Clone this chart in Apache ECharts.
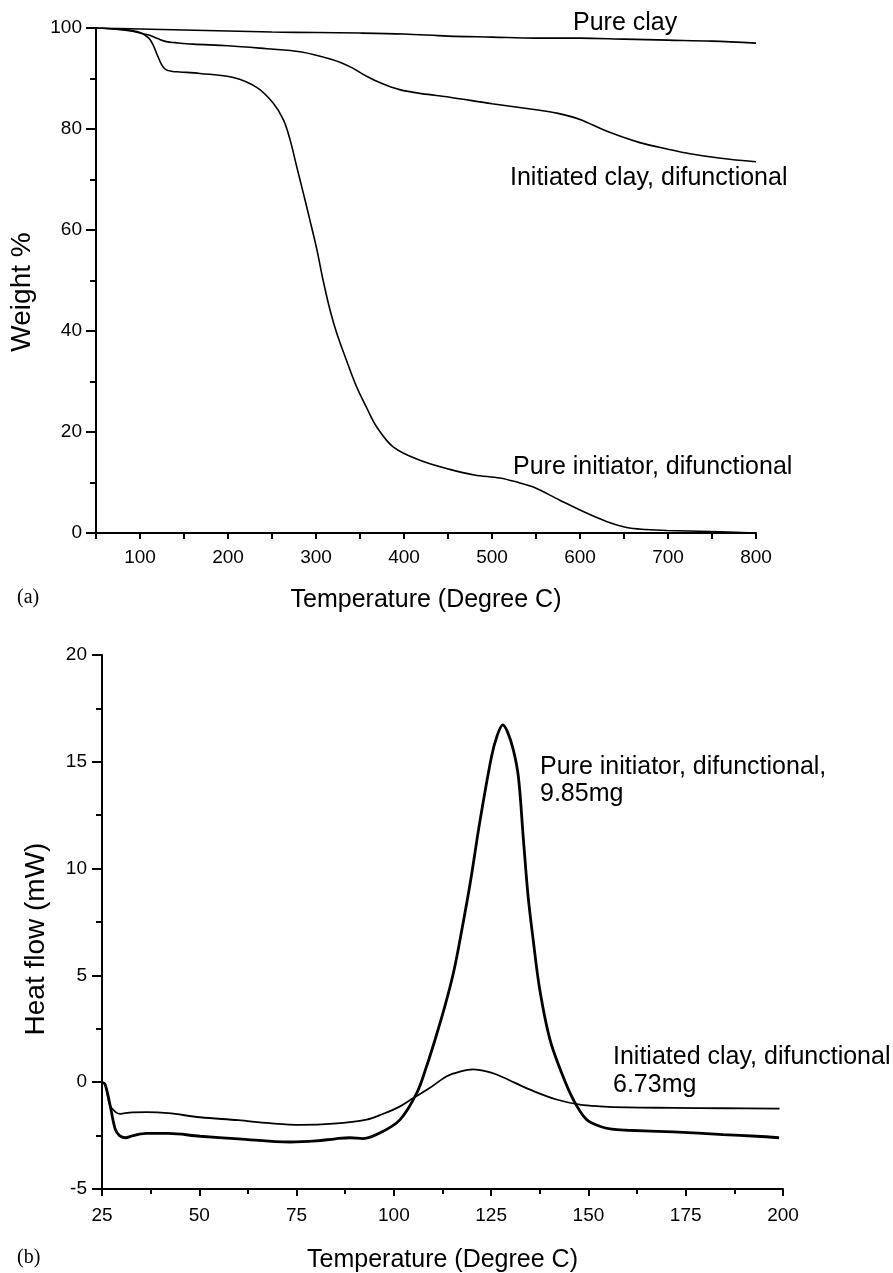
<!DOCTYPE html>
<html>
<head>
<meta charset="utf-8">
<title>TGA / DSC</title>
<script src="https://cdn.jsdelivr.net/npm/echarts@6/dist/echarts.min.js"></script>
<style>
  html, body { margin: 0; padding: 0; background: #fff; }
  #chart { width: 893px; height: 1273px; }
</style>
</head>
<body>
<div id="chart"></div>
<script>
// (a) TGA 数据：温度 / 失重
const clayT = [50, 100, 150, 200, 250, 300, 350, 400, 450, 500, 550, 600, 650, 700, 750, 800];
const clayW = [100, 99.8, 99.6, 99.4, 99.2, 99.1, 99.0, 98.8, 98.4, 98.2, 98.0, 98.0, 97.8, 97.6, 97.4, 97.0];

const initClayT = [50, 70, 90, 100, 110, 120, 130, 140, 160, 200, 244, 282, 319, 340, 358, 375, 395, 420, 452, 500, 550, 575, 600, 630, 668, 700, 725, 760, 800];
const initClayW = [100, 99.8, 99.4, 99.0, 98.6, 97.9, 97.3, 97.1, 96.8, 96.5, 95.9, 95.3, 93.7, 92.2, 90.4, 89.0, 87.8, 87.0, 86.3, 85.0, 83.8, 83.1, 81.9, 79.6, 77.3, 76.0, 75.1, 74.2, 73.5];

const initT = [50, 80, 100, 110, 115, 120, 125, 130, 137, 145, 168, 206, 233, 251.5, 263, 270.5, 278, 285.6, 293, 301, 308, 316, 323.5, 335, 346, 357, 369, 388, 418, 452, 480, 509, 530, 547, 577, 608, 630, 653, 675, 699, 748, 800];
const initW = [100, 99.7, 99.1, 98.0, 96.6, 94.5, 92.6, 91.7, 91.4, 91.3, 91.0, 90.2, 88.2, 85.1, 81.8, 77.9, 72.6, 67.3, 62.0, 56.1, 50.1, 44.1, 39.6, 34.0, 29.0, 25.0, 21.0, 17.0, 14.4, 12.6, 11.5, 10.9, 10.0, 9.1, 6.5, 3.9, 2.3, 1.1, 0.7, 0.5, 0.3, 0];

// (b) DSC 数据：温度 / 热流
const dscInitT = [25, 25.8, 27.1, 28.4, 29.5, 31, 33, 36.5, 42, 50.2, 60, 73.3, 80, 85, 88.7, 92.1, 96.5, 101.6, 105.9, 108.4, 110.6, 113.1, 115.3, 117, 119.6, 122.1, 125.1, 126.5, 128, 129.2, 130.7, 132, 133.3, 134.5, 135.8, 137.5, 140.1, 143.1, 146.1, 149.5, 152.9, 156, 160, 171.8, 184.6, 193.2, 199];
const dscInitH = [0, -0.1, -1.1, -2.2, -2.5, -2.6, -2.5, -2.4, -2.4, -2.53, -2.65, -2.8, -2.75, -2.65, -2.6, -2.64, -2.37, -1.75, -0.5, 0.74, 2.0, 3.55, 5.11, 6.67, 9.3, 12.2, 15.25, 16.2, 16.73, 16.4, 15.56, 14.3, 11.35, 8.7, 6.67, 4.33, 2.0, 0.44, -0.81, -1.75, -2.06, -2.2, -2.25, -2.33, -2.45, -2.53, -2.6];

const dscClayT = [25, 25.8, 27.1, 28.5, 29.7, 32, 36.5, 42, 50.2, 60, 68, 75.9, 84.5, 93, 97, 101.6, 105, 109, 113.6, 117, 120.4, 123.5, 126.4, 131, 135, 141.8, 147.8, 152.9, 160, 171.7, 185, 199.1];
const dscClayH = [0, -0.1, -1.1, -1.4, -1.48, -1.42, -1.4, -1.45, -1.64, -1.78, -1.92, -2.0, -1.94, -1.75, -1.5, -1.13, -0.74, -0.3, 0.28, 0.5, 0.6, 0.52, 0.36, -0.02, -0.35, -0.81, -1.05, -1.13, -1.18, -1.2, -1.22, -1.24];

const FONT = '"Liberation Sans", Arial, sans-serif';
const SERIF = '"Liberation Serif", "Times New Roman", serif';

const chart = echarts.init(document.getElementById('chart'));

// 合并 x / y 数组为点
const zip = (xs, ys) => xs.map((x, i) => [x, ys[i]]);

// 通用坐标轴样式
function axisBase(extra) {
    return Object.assign({
        type: 'value',
        splitLine: { show: false },
        axisLine: { show: true, onZero: false, lineStyle: { color: '#000', width: 2 } },
        axisTick: { show: true, length: 8, lineStyle: { color: '#000', width: 2 } },
        minorTick: { show: true, splitNumber: 2, length: 5, lineStyle: { color: '#000', width: 2 } },
        axisLabel: { color: '#000', fontSize: 19, fontFamily: FONT },
        nameLocation: 'middle',
        nameTextStyle: { color: '#000', fontSize: 25, fontFamily: FONT }
    }, extra);
}

function line(name, data, idx, width) {
    return {
        name: name,
        type: 'line',
        xAxisIndex: idx,
        yAxisIndex: idx,
        data: data,
        showSymbol: false,
        smooth: 0.35,
        lineStyle: { color: '#000', width: width }
    };
}

function label(text, x, y, size, family, rotation) {
    return {
        type: 'text',
        x: x,
        y: y,
        rotation: rotation || 0,
        style: {
            text: text,
            fill: '#000',
            font: size + 'px ' + (family || FONT),
            textAlign: rotation ? 'center' : 'left',
            textVerticalAlign: 'middle'
        }
    };
}

const option = {
    backgroundColor: '#fff',
    animation: false,
    grid: [
        { left: 96, top: 28, width: 660, height: 505, outerBoundsMode: 'none' },     // (a)
        { left: 102, top: 655, width: 681, height: 534, outerBoundsMode: 'none' }   // (b)
    ],
    xAxis: [
        axisBase({
            gridIndex: 0, min: 50, max: 800, interval: 50,
            minorTick: { show: false },
            axisTick: { show: true, length: 6, lineStyle: { color: '#000', width: 2 } },
            axisLabel: { color: '#000', fontSize: 19, fontFamily: FONT, margin: 15,
                formatter: v => (v % 100 === 0 ? String(v) : '') },
            name: 'Temperature (Degree C)', nameGap: 55
        }),
        axisBase({
            gridIndex: 1, min: 25, max: 200, interval: 25,
            axisTick: { show: true, length: 7, lineStyle: { color: '#000', width: 2 } },
            axisLabel: { color: '#000', fontSize: 19, fontFamily: FONT, margin: 17 },
            name: 'Temperature (Degree C)', nameGap: 59
        })
    ],
    yAxis: [
        axisBase({
            gridIndex: 0, min: 0, max: 100, interval: 20,
            axisTick: { show: true, length: 10, lineStyle: { color: '#000', width: 2 } },
            minorTick: { show: true, splitNumber: 2, length: 6, lineStyle: { color: '#000', width: 2 } },
            axisLabel: { color: '#000', fontSize: 19, fontFamily: FONT, margin: 14 }
        }),
        axisBase({
            gridIndex: 1, min: -5, max: 20, interval: 5,
            axisTick: { show: true, length: 10, lineStyle: { color: '#000', width: 2 } },
            minorTick: { show: true, splitNumber: 2, length: 6, lineStyle: { color: '#000', width: 2 } },
            axisLabel: { color: '#000', fontSize: 19, fontFamily: FONT, margin: 15 }
        })
    ],
    series: [
        line('Pure clay', zip(clayT, clayW), 0, 1.6),
        line('Initiated clay, difunctional', zip(initClayT, initClayW), 0, 1.6),
        line('Pure initiator, difunctional', zip(initT, initW), 0, 1.6),
        line('Pure initiator, difunctional, 9.85mg', zip(dscInitT, dscInitH), 1, 2.8),
        line('Initiated clay, difunctional 6.73mg', zip(dscClayT, dscClayH), 1, 1.8)
    ],
    graphic: [
        label('Weight %', 22, 292, 28, FONT, Math.PI / 2),
        label('Heat flow (mW)', 36, 939, 28, FONT, Math.PI / 2),
        label('Pure clay', 573, 23, 25),
        label('Initiated clay, difunctional', 510, 178, 25),
        label('Pure initiator, difunctional', 513, 467, 25),
        label('(a)', 17, 598, 20, SERIF),
        label('Pure initiator, difunctional,', 540, 767, 25),
        label('9.85mg', 540, 794, 25),
        label('Initiated clay, difunctional', 613, 1057, 25),
        label('6.73mg', 613, 1085, 25),
        label('(b)', 17, 1258, 20, SERIF)
    ]
};

chart.setOption(option);
</script>
</body>
</html>
